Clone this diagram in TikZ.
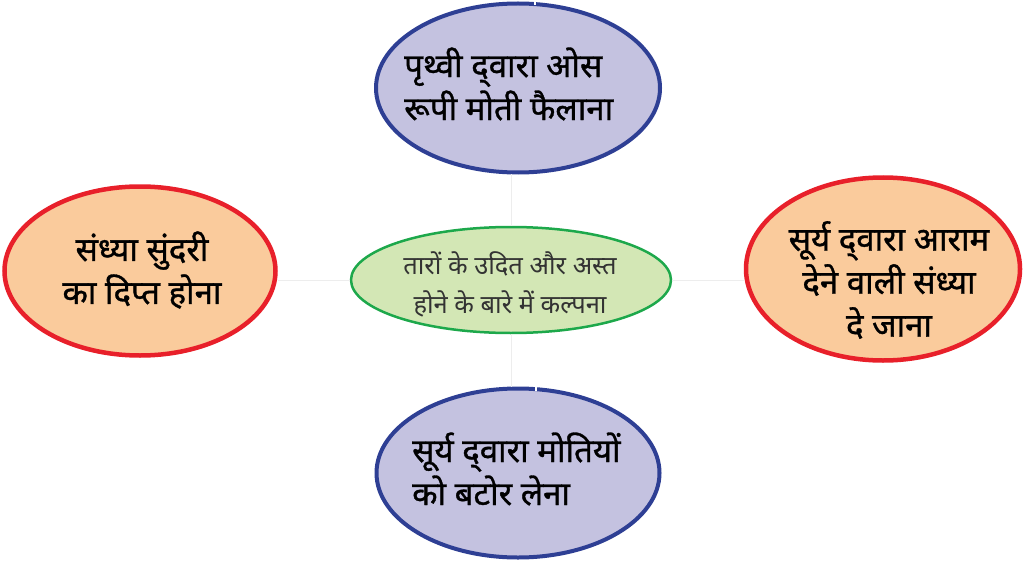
\documentclass[tikz,border=0pt]{standalone}
\usepackage{fontspec}
\usetikzlibrary{shapes.geometric}
\newfontfamily\hindi[Script=Devanagari]{Noto Sans}
\newfontfamily\hindib[Script=Devanagari,FakeBold=1.0]{Noto Sans}
\definecolor{bblue}{HTML}{2E3F94}
\definecolor{lav}{HTML}{C4C2E0}
\definecolor{rred}{HTML}{E8202A}
\definecolor{orng}{HTML}{FACB9C}
\definecolor{ggreen}{HTML}{1DA84B}
\definecolor{lgreen}{HTML}{D3E7B5}
\tikzset{
  bluebox/.style={ellipse, draw=bblue, fill=lav, line width=4pt, inner sep=0pt},
  redbox/.style={ellipse, draw=rred, fill=orng, line width=4.5pt, inner sep=0pt},
  greenbox/.style={ellipse, draw=ggreen, fill=lgreen, line width=2.5pt, inner sep=0pt},
  outertext/.style={font=\hindib\fontsize{33}{43}\selectfont, text=black, inner sep=0pt},
  centertext/.style={font=\hindi\fontsize{25.5}{39}\selectfont, text=black!80, inner sep=0pt},
  link/.style={draw=black!7, line width=1pt},
  notch/.style={draw=white, line width=1.5pt}
}
\begin{document}
\begin{tikzpicture}[x=1pt,y=-1pt]
\useasboundingbox (0,0) rectangle (1024,564);
\node[bluebox, minimum width=284pt, minimum height=169pt] (t) at (518,88) {};
\node[bluebox, minimum width=283pt, minimum height=169pt] (b) at (518,473) {};
\node[redbox, minimum width=271pt, minimum height=169pt] (l) at (140,271) {};
\node[redbox, minimum width=274pt, minimum height=183pt] (r) at (883,269) {};
\node[greenbox, minimum width=320pt, minimum height=106pt] (c) at (511,280) {};
\draw[link] (c.north) -- (c.north |- t.south);
\draw[link] (c.south) -- (c.south |- b.north);
\draw[link] (c.west) -- (c.west -| l.east);
\draw[link] (c.east) -- (c.east -| r.west);
\coordinate (n1a) at (535,0);
\coordinate (n1b) at (535,5);
\coordinate (n2a) at (536,384);
\coordinate (n2b) at (536,391);
\draw[notch] (n1a) -- (n1b);
\draw[notch] (n2a) -- (n2b);
\node[outertext, align=left, anchor=west] (tt) at (404,84) {पृथ्वी द्‌वारा ओस\\रूपी मोती फैलाना};
\node[outertext, align=left, anchor=west] (bt) at (412,469) {सूर्य द्‌वारा मोतियों\\को बटोर लेना};
\node[outertext, align=center] (lt) at (142,270) {संध्या सुंदरी\\का दिप्त होना};
\node[outertext, align=center] (rt) at (889,280) {सूर्य द्‌वारा आराम\\देने वाली संध्या\\दे जाना};
\node[centertext, align=center] (ct) at (510,284) {तारों के उदित और अस्त\\होने के बारे में कल्पना};
\end{tikzpicture}
\end{document}
